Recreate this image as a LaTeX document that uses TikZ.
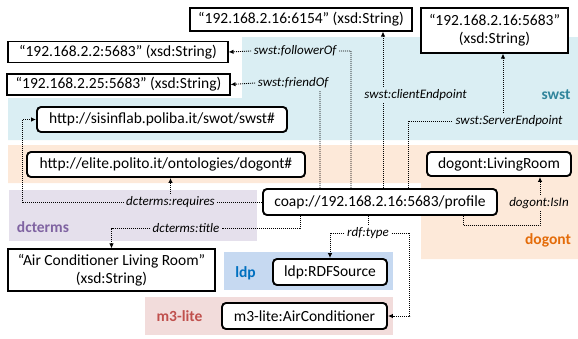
\documentclass[tikz,border=0pt]{standalone}
\usepackage{fontspec}
\setmainfont{Carlito}
\usetikzlibrary{arrows.meta,calc}
\definecolor{swstbg}{HTML}{DAEEF3}
\definecolor{dogontbg}{HTML}{FDE9D9}
\definecolor{dctermsbg}{HTML}{E5E0EC}
\definecolor{ldpbg}{HTML}{C6D9F1}
\definecolor{mthreebg}{HTML}{F2DCDB}
\definecolor{swstfg}{HTML}{31859C}
\definecolor{dogontfg}{HTML}{E46C0A}
\definecolor{dctermsfg}{HTML}{8064A2}
\definecolor{ldpfg}{HTML}{0070C0}
\definecolor{mthreefg}{HTML}{C0504D}
\tikzset{
  res/.style={draw=black, line width=1.9pt, rounded corners=4pt, fill=white, inner sep=0pt,
    font=\fontsize{15.5}{18}\selectfont},
  lit/.style={draw=black, line width=1.1pt, fill=white, inner sep=0pt, align=center,
    font=\fontsize{15.5}{18}\selectfont},
  rel/.style={line width=0.9pt, dash pattern=on 1pt off 1pt},
  relarrow/.style={rel, -{Latex[length=5pt,width=4.5pt]}},
  plabel/.style={inner sep=2.5pt, font=\fontsize{13}{15}\selectfont\itshape},
  nslabel/.style={inner sep=0pt, font=\fontsize{15.5}{18}\selectfont\bfseries}
}
\begin{document}
\begin{tikzpicture}[x=1pt,y=-1pt]
\useasboundingbox (0,0) rectangle (578,338);
% namespace regions
\fill[swstbg] (242,37) -- (578,37) -- (578,140) -- (8,140) -- (8,98) -- (242,98) -- cycle;
\fill[dogontbg] (8,145) -- (578,145) -- (578,259) -- (421,259) -- (421,183) -- (8,183) -- cycle;
\fill[dctermsbg] (9,190) rectangle (257,241);
\fill[ldpbg] (224,252) rectangle (393,290);
\fill[mthreebg] (145,297) rectangle (393,335);
\node[nslabel, text=swstfg] (nsswst) at (556,95) {swst};
\node[nslabel, text=dogontfg] (nsdogont) at (548,240) {dogont};
\node[nslabel, text=dctermsfg] (nsdcterms) at (43,227) {dcterms};
\node[nslabel, text=ldpfg] (nsldp) at (245.5,273) {ldp};
\node[nslabel, text=mthreefg] (nsm3) at (179.5,316) {m3-lite};
% nodes
\node[lit, minimum width=222, minimum height=23] (s6154) at (301,19.5) {“192.168.2.16:6154” (xsd:String)};
\node[lit, minimum width=147, minimum height=45] (s5683) at (494.5,30.5) {“192.168.2.16:5683”\\(xsd:String)};
\node[lit, minimum width=220, minimum height=21] (s22) at (118,52) {“192.168.2.2:5683” (xsd:String)};
\node[lit, minimum width=223, minimum height=21] (s25) at (118.5,84.5) {“192.168.2.25:5683” (xsd:String)};
\node[res, minimum width=250, minimum height=25] (swstns) at (162,119.5) {http://sisinflab.poliba.it/swot/swst\#};
\node[res, minimum width=278, minimum height=25] (dogontns) at (166,164.5) {http://elite.polito.it/ontologies/dogont\#};
\node[res, minimum width=144, minimum height=24] (living) at (499,164) {dogont:LivingRoom};
\node[res, minimum width=234, minimum height=26] (coap) at (380,202) {coap://192.168.2.16:5683/profile};
\node[lit, minimum width=207, minimum height=42] (title) at (111.5,270) {“Air Conditioner Living Room”\\(xsd:String)};
\node[res, minimum width=114, minimum height=26] (rdfsrc) at (330,272) {ldp:RDFSource};
\node[res, minimum width=165, minimum height=26] (m3) at (304.5,316) {m3-lite:AirConditioner};
% property labels
\node[plabel, fill=swstbg] (fol) at (295,51) {swst:followerOf};
\node[plabel, fill=swstbg] (fri) at (293,83) {swst:friendOf};
\node[plabel, fill=swstbg] (cli) at (415.5,95) {swst:clientEndpoint};
\node[plabel] (srv) at (509,121) {swst:ServerEndpoint};
\node[plabel] (req) at (170.5,202) {dcterms:requires};
\node[plabel] (ttl) at (186,228) {dcterms:title};
\node[plabel] (rdf) at (368,233) {rdf:type};
\node[plabel] (isin) at (539,203) {dogont:IsIn};
% bend points
\coordinate (pfol) at ($(coap.north)+(-29,0)$);
\coordinate (pfri) at ($(coap.north)+(-60,0)$);
\coordinate (pcli) at ($(coap.north)+(3,0)$);
\coordinate (psrv) at ($(coap.north)+(28,0)$);
\coordinate (pttl) at ($(coap.south)+(-80,0)$);
\coordinate (pisin) at ($(coap.south)+(83,0)$);
\coordinate (psrvup) at ($(srv.north)+(-6,0)$);
\coordinate (preq) at ($(req.west)+(-101,0)$);
\coordinate (prdf) at ($(rdf.east)+(18,0)$);
\coordinate (pisinc) at ($(isin.south)+(1,14)$);
% connectors
\draw[relarrow] (pfol) |- (fol.east) (fol.west) -- (s22.east);
\draw[relarrow] (pfri) -- (pfri |- fri.south) (fri.west) -- (s25.east);
\draw[rel] (pcli) -- (pcli |- cli.south);
\draw[relarrow] (pcli |- cli.north) -- (pcli |- s6154.south);
\draw[rel] (psrv) |- (srv.west);
\draw[relarrow] (psrvup) -- (psrvup |- s5683.south);
\draw[rel] (coap.west) -- (req.east);
\draw[relarrow] (req.west) -- (preq) |- (swstns.west);
\draw[relarrow] (req.north) -- (req.north |- dogontns.south);
\draw[rel] (pttl) |- (ttl.east);
\draw[relarrow] (ttl.west) -| (title.north);
\draw[rel] (rdf.north |- coap.south) -- (rdf.north);
\draw[relarrow] (rdf.west) -| (rdfsrc.north);
\draw[relarrow] (rdf.east) -- (prdf) |- (m3.east);
\draw[rel] (pisin) |- (pisinc) -- (pisinc |- isin.south);
\draw[relarrow] (pisinc |- isin.north) -- (pisinc |- living.south);
\end{tikzpicture}
\end{document}
